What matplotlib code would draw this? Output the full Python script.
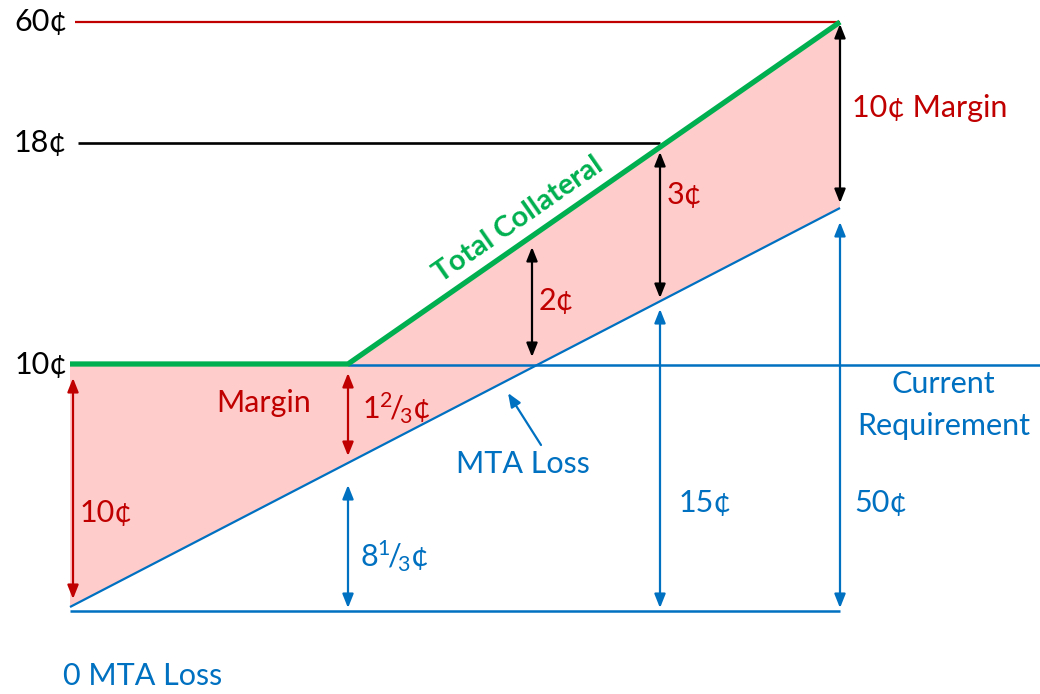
import numpy as np
import matplotlib
matplotlib.use("Agg")
import matplotlib.pyplot as plt

plt.rcParams['font.family'] = ['Lato', 'DejaVu Sans']
plt.rcParams['mathtext.fontset'] = 'custom'
plt.rcParams['mathtext.rm'] = 'Lato'
plt.rcParams['mathtext.it'] = 'Lato:italic'

RED = '#C00000'
BLUE = '#0070C0'
GREEN = '#00B050'
PINK = '#FFCCCC'

# schematic geometry (diagram units, same as slide pixels, y grows down)
x_start, x_kink, x_mid, x_15, x_end, x_right = 70, 348, 532, 660, 840, 1040
y_base = 611
y_req = 365          # 10c current requirement
y_18 = 143
y_60 = 22

collat_x = [x_start, x_kink, x_end]       # Total Collateral (green)
collat_y = [364, 364, 22]
mta_x = [x_start, x_end]                  # MTA loss line (blue diagonal)
mta_y = [607, 208]

level_labels = ['60¢', '18¢', '10¢']
level_y = [y_60, y_18, y_req]

# double arrows: x, y_top, y_bottom, colour
arrows = [
    (73, 378, 599, RED),
    (x_kink, 373, 456, RED),
    (x_kink, 485, 608, BLUE),
    (x_mid, 247, 357, 'black'),
    (x_15, 152, 298, 'black'),
    (x_end, 24, 203, 'black'),
    (x_15, 309, 608, BLUE),
    (x_end, 222, 608, BLUE),
]

# text labels: text, x, baseline y, colour, ha
labels = [
    ('10¢', 80, 522, RED, 'left'),
    ('Margin', 216, 412, RED, 'left'),
    (r'$\mathrm{1^{2}\!/\!_{3}}$¢', 362, 419, RED, 'left'),
    (r'$\mathrm{8^{1}\!/\!_{3}}$¢', 360, 567, BLUE, 'left'),
    ('2¢', 539, 310, RED, 'left'),
    ('3¢', 667, 204, RED, 'left'),
    ('10¢ Margin', 852, 117, RED, 'left'),
    ('MTA Loss', 456, 473, BLUE, 'left'),
    ('15¢', 679, 512, BLUE, 'left'),
    ('50¢', 854, 512, BLUE, 'left'),
    ('Current', 943, 393, BLUE, 'center'),
    ('Requirement', 944, 435, BLUE, 'center'),
    ('0 MTA Loss', 63, 685, BLUE, 'left'),
]

fig = plt.figure(figsize=(10.4, 6.94), dpi=100)
ax = fig.add_axes([0, 0, 1, 1])
ax.set_xlim(0, 1040)
ax.set_ylim(694, 0)
ax.axis('off')

# pink margin area between collateral and MTA loss
poly_x = collat_x + mta_x[::-1]
poly_y = collat_y + mta_y[::-1]
ax.fill(poly_x, poly_y, color=PINK, lw=0, zorder=1)

# horizontal reference lines
ax.plot([75, x_end], [y_60, y_60], color=RED, lw=1.6, solid_capstyle='butt', zorder=2)
ax.plot([78, x_15], [y_18, y_18], color='black', lw=1.9, solid_capstyle='butt', zorder=2)
ax.plot([x_kink, x_right], [y_req, y_req], color=BLUE, lw=1.8, solid_capstyle='butt', zorder=2)
ax.plot([x_start, x_end], [y_base, y_base], color=BLUE, lw=1.8, solid_capstyle='butt', zorder=2)

# MTA loss diagonal and total collateral
ax.plot(mta_x, mta_y, color=BLUE, lw=1.6, solid_capstyle='butt', zorder=3)
ax.plot(collat_x, collat_y, color=GREEN, lw=3.8, solid_capstyle='butt',
        solid_joinstyle='miter', zorder=4)

for txt, yy in zip(level_labels, level_y):
    ax.text(67, yy + 9, txt, ha='right', va='baseline', fontsize=22, color='black')

for xx, y0, y1, c in arrows:
    ax.annotate('', xy=(xx, y1), xytext=(xx, y0),
                arrowprops=dict(arrowstyle='<|-|>,head_length=0.55,head_width=0.22',
                                mutation_scale=15, color=c, lw=1.6,
                                shrinkA=0, shrinkB=0), zorder=5)

# pointer to the MTA loss line
ax.annotate('', xy=(508, 393), xytext=(541, 445),
            arrowprops=dict(arrowstyle='-|>,head_length=0.55,head_width=0.22',
                            mutation_scale=15, color=BLUE, lw=1.6,
                            shrinkA=0, shrinkB=0), zorder=5)

for txt, xx, yy, c, ha in labels:
    ax.text(xx, yy, txt, ha=ha, va='baseline', fontsize=22, color=c)

slope = np.degrees(np.arctan((collat_y[1] - collat_y[2]) / (collat_x[2] - collat_x[1])))
ax.text(523, 226, 'Total Collateral', rotation=slope, rotation_mode='anchor',
        ha='center', va='baseline', fontsize=21, fontweight='bold', color=GREEN)

fig.savefig('out.png', dpi=100)
